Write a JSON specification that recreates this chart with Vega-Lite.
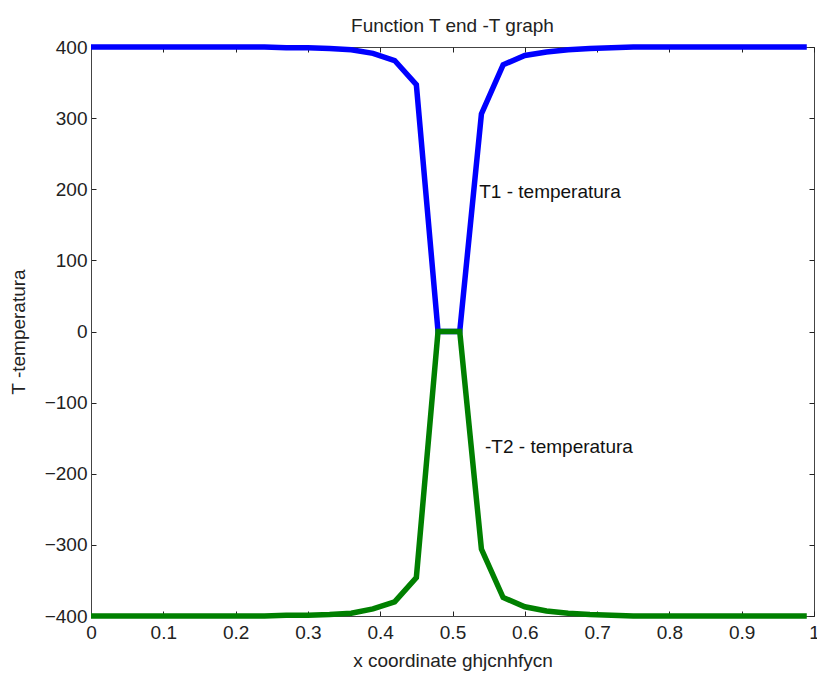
{
  "$schema": "https://vega.github.io/schema/vega-lite/v6.json",
  "width": 723,
  "height": 569,
  "autosize": {"type": "none"},
  "padding": {"left": 91, "top": 47, "right": 3, "bottom": 59},
  "background": "white",
  "config": {
    "view": {"stroke": "#444444", "strokeWidth": 1},
    "font": "Liberation Sans",
    "axis": {"labelFont": "Liberation Sans", "titleFont": "Liberation Sans", "labelFontSize": 19, "titleFontSize": 19, "labelColor": "#222222", "titleColor": "#222222", "titleFontWeight": "normal", "domainColor": "#444444", "tickColor": "#222222", "grid": false}
  },
  "title": {"text": "Function T end -T graph", "fontSize": 19, "fontWeight": "normal", "font": "Liberation Sans", "color": "#222222", "offset": 14, "baseline": "alphabetic", "dy": 29},
  "datasets": {
    "curves": [
      {"x": 0.00, "T": 400, "s": "T1"}, {"x": 0.03, "T": 400, "s": "T1"}, {"x": 0.06, "T": 400, "s": "T1"}, {"x": 0.09, "T": 400, "s": "T1"},
      {"x": 0.12, "T": 400, "s": "T1"}, {"x": 0.15, "T": 400, "s": "T1"}, {"x": 0.18, "T": 400, "s": "T1"}, {"x": 0.21, "T": 400, "s": "T1"},
      {"x": 0.24, "T": 400, "s": "T1"}, {"x": 0.27, "T": 399, "s": "T1"}, {"x": 0.30, "T": 399, "s": "T1"}, {"x": 0.33, "T": 398, "s": "T1"},
      {"x": 0.36, "T": 396, "s": "T1"}, {"x": 0.39, "T": 391, "s": "T1"}, {"x": 0.42, "T": 381, "s": "T1"}, {"x": 0.45, "T": 347, "s": "T1"},
      {"x": 0.48, "T": 0, "s": "T1"}, {"x": 0.51, "T": 0, "s": "T1"}, {"x": 0.54, "T": 306, "s": "T1"}, {"x": 0.57, "T": 375, "s": "T1"},
      {"x": 0.60, "T": 388, "s": "T1"}, {"x": 0.63, "T": 393, "s": "T1"}, {"x": 0.66, "T": 396, "s": "T1"}, {"x": 0.69, "T": 398, "s": "T1"},
      {"x": 0.72, "T": 399, "s": "T1"}, {"x": 0.75, "T": 400, "s": "T1"}, {"x": 0.78, "T": 400, "s": "T1"}, {"x": 0.81, "T": 400, "s": "T1"},
      {"x": 0.84, "T": 400, "s": "T1"}, {"x": 0.87, "T": 400, "s": "T1"}, {"x": 0.90, "T": 400, "s": "T1"}, {"x": 0.93, "T": 400, "s": "T1"},
      {"x": 0.96, "T": 400, "s": "T1"}, {"x": 0.99, "T": 400, "s": "T1"},
      {"x": 0.00, "T": -400, "s": "T2"}, {"x": 0.03, "T": -400, "s": "T2"}, {"x": 0.06, "T": -400, "s": "T2"}, {"x": 0.09, "T": -400, "s": "T2"},
      {"x": 0.12, "T": -400, "s": "T2"}, {"x": 0.15, "T": -400, "s": "T2"}, {"x": 0.18, "T": -400, "s": "T2"}, {"x": 0.21, "T": -400, "s": "T2"},
      {"x": 0.24, "T": -400, "s": "T2"}, {"x": 0.27, "T": -399, "s": "T2"}, {"x": 0.30, "T": -399, "s": "T2"}, {"x": 0.33, "T": -398, "s": "T2"},
      {"x": 0.36, "T": -396, "s": "T2"}, {"x": 0.39, "T": -390, "s": "T2"}, {"x": 0.42, "T": -380, "s": "T2"}, {"x": 0.45, "T": -346, "s": "T2"},
      {"x": 0.48, "T": 0, "s": "T2"}, {"x": 0.51, "T": 0, "s": "T2"}, {"x": 0.54, "T": -306, "s": "T2"}, {"x": 0.57, "T": -374, "s": "T2"},
      {"x": 0.60, "T": -387, "s": "T2"}, {"x": 0.63, "T": -393, "s": "T2"}, {"x": 0.66, "T": -396, "s": "T2"}, {"x": 0.69, "T": -398, "s": "T2"},
      {"x": 0.72, "T": -399, "s": "T2"}, {"x": 0.75, "T": -400, "s": "T2"}, {"x": 0.78, "T": -400, "s": "T2"}, {"x": 0.81, "T": -400, "s": "T2"},
      {"x": 0.84, "T": -400, "s": "T2"}, {"x": 0.87, "T": -400, "s": "T2"}, {"x": 0.90, "T": -400, "s": "T2"}, {"x": 0.93, "T": -400, "s": "T2"},
      {"x": 0.96, "T": -400, "s": "T2"}, {"x": 0.99, "T": -400, "s": "T2"}
    ],
    "labels": [
      {"x": 0.537, "T": 196, "label": "T1 - temperatura"},
      {"x": 0.545, "T": -163, "label": "-T2 - temperatura"}
    ]
  },
  "layer": [
    {
      "data": {"name": "curves"},
      "mark": {"type": "line", "strokeWidth": 5.5, "strokeJoin": "miter", "strokeCap": "butt", "clip": false},
      "encoding": {
        "x": {"field": "x", "type": "quantitative", "scale": {"domain": [0, 1], "nice": false, "zero": false},
              "axis": {"orient": "bottom", "title": "x coordinate ghjcnhfycn", "values": [0, 0.1, 0.2, 0.3, 0.4, 0.5, 0.6, 0.7, 0.8, 0.9, 1], "labelExpr": "datum.value === 0 ? '0' : datum.value === 1 ? '1' : format(datum.value, '.1f')", "tickSize": -5, "labelPadding": 12, "titlePadding": 9, "labelFlush": false, "labelOverlap": false}},
        "y": {"field": "T", "type": "quantitative", "scale": {"domain": [-400, 400], "nice": false, "zero": false},
              "axis": {"orient": "left", "title": "T -temperatura", "values": [-400, -300, -200, -100, 0, 100, 200, 300, 400], "tickSize": -5, "labelPadding": 9, "titlePadding": 16, "labelFlush": false, "labelOverlap": false}},
        "color": {"field": "s", "type": "nominal", "scale": {"domain": ["T1", "T2"], "range": ["#0000ff", "#008000"]}, "legend": null}
      }
    },
    {
      "data": {"name": "labels"},
      "mark": {"type": "text", "align": "left", "baseline": "middle", "fontSize": 19, "font": "Liberation Sans", "color": "#111111"},
      "encoding": {
        "x": {"field": "x", "type": "quantitative", "axis": {"orient": "top", "title": null, "labels": false, "domain": false, "tickSize": -5, "values": [0, 0.1, 0.2, 0.3, 0.4, 0.5, 0.6, 0.7, 0.8, 0.9, 1]}},
        "y": {"field": "T", "type": "quantitative", "axis": {"orient": "right", "title": null, "labels": false, "domain": false, "tickSize": -5, "values": [-400, -300, -200, -100, 0, 100, 200, 300, 400]}},
        "text": {"field": "label"}
      }
    }
  ],
  "resolve": {"axis": {"x": "independent", "y": "independent"}}
}
